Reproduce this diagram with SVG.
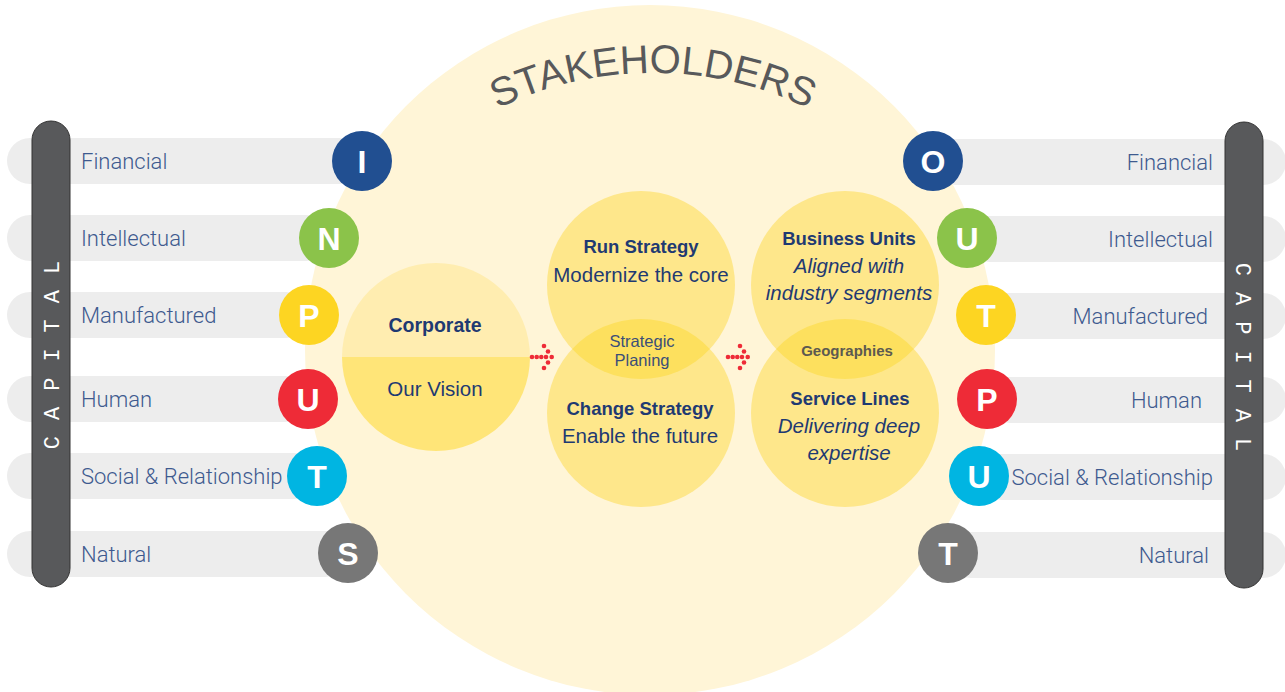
<svg xmlns="http://www.w3.org/2000/svg" width="1285" height="692" viewBox="0 0 1285 692">
<defs>
<style>
.row{fill:#EDEDED}
.lbl{font-family:"Roboto","Liberation Sans",sans-serif;font-weight:300;font-size:22px;fill:#3E5A8F}
.end{text-anchor:end}
.bar{fill:#58595B;stroke:#333333;stroke-width:1}
.cap{font-family:"Liberation Mono",monospace;font-size:22px;fill:#FFFFFF;letter-spacing:16px;text-anchor:middle}
.ltr{font-family:"Liberation Sans",sans-serif;font-weight:bold;font-size:32px;fill:#FFFFFF;text-anchor:middle}
.h{font-family:"Liberation Sans",sans-serif;font-weight:bold;font-size:18.5px;fill:#1F3A72;text-anchor:middle}
.t{font-family:"Liberation Sans",sans-serif;font-size:20.5px;fill:#1F3A72;text-anchor:middle}
.i{font-style:italic}
.sm{font-family:"Liberation Sans",sans-serif;font-size:16.5px;fill:#3B4E78;text-anchor:middle}
.geo{font-family:"Liberation Sans",sans-serif;font-weight:bold;font-size:15px;fill:#5C5A50;text-anchor:middle}
.sc{fill:#FEE78B}
.lens{fill:#FDE05E}
.dot{fill:#EE2B37}
.stk{font-family:"Liberation Sans",sans-serif;font-size:40px;fill:#58595B}
</style>
<g id="arr">
<circle class="dot" cx="0" cy="0" r="2.3"/>
<circle class="dot" cx="4.7" cy="0" r="2.3"/>
<circle class="dot" cx="9.3" cy="0" r="2.3"/>
<circle class="dot" cx="14" cy="0" r="2.3"/>
<circle class="dot" cx="12" cy="-11" r="2.3"/>
<circle class="dot" cx="16" cy="-5.5" r="2.3"/>
<circle class="dot" cx="19.7" cy="0" r="2.3"/>
<circle class="dot" cx="16" cy="5.5" r="2.3"/>
<circle class="dot" cx="12" cy="11" r="2.3"/>
</g>
<path id="arc" d="M 423.5 156.5 A 357 357 0 0 1 882.5 156.5" fill="none"/>
</defs>

<g id="rows-left">
<rect class="row" x="7" y="138" width="355" height="46" rx="23"/>
<rect class="row" x="7" y="215" width="322" height="46" rx="23"/>
<rect class="row" x="7" y="292" width="302" height="46" rx="23"/>
<rect class="row" x="7" y="376" width="301" height="46" rx="23"/>
<rect class="row" x="7" y="453" width="310" height="46" rx="23"/>
<rect class="row" x="7" y="531" width="341" height="46" rx="23"/>
</g>
<g id="rows-right">
<rect class="row" x="933" y="139" width="353" height="46" rx="23"/>
<rect class="row" x="967" y="216" width="319" height="46" rx="23"/>
<rect class="row" x="986" y="293" width="300" height="46" rx="23"/>
<rect class="row" x="987" y="377" width="299" height="46" rx="23"/>
<rect class="row" x="979" y="454" width="307" height="46" rx="23"/>
<rect class="row" x="948" y="532" width="338" height="46" rx="23"/>
</g>

<g id="stakeholders">
<circle cx="650" cy="350" r="345" fill="#FFF5D7"/>
<text class="stk"><textPath href="#arc" startOffset="50%" text-anchor="middle">STAKEHOLDERS</textPath></text>
</g>

<g id="capital-left">
<rect class="bar" x="32" y="121" width="38" height="466" rx="19"/>
<text class="cap" transform="translate(59,347) rotate(-90)">CAPITAL</text>
</g>
<g id="capital-right">
<rect class="bar" x="1225" y="122" width="38" height="466" rx="19"/>
<text class="cap" transform="translate(1236,365) rotate(90)">CAPITAL</text>
</g>

<g id="labels-left">
<text class="lbl" x="81" y="169">Financial</text>
<text class="lbl" x="81" y="246">Intellectual</text>
<text class="lbl" x="81" y="323">Manufactured</text>
<text class="lbl" x="81" y="407">Human</text>
<text class="lbl" x="81" y="484">Social &amp; Relationship</text>
<text class="lbl" x="81" y="562">Natural</text>
</g>
<g id="labels-right">
<text class="lbl end" x="1213" y="170">Financial</text>
<text class="lbl end" x="1213" y="247">Intellectual</text>
<text class="lbl end" x="1208" y="324">Manufactured</text>
<text class="lbl end" x="1202" y="408">Human</text>
<text class="lbl end" x="1213" y="485">Social &amp; Relationship</text>
<text class="lbl end" x="1209" y="563">Natural</text>
</g>

<g id="input-letters">
<g id="in-I"><circle cx="362" cy="161" r="30" fill="#214F91"/><text class="ltr" x="362" y="173">I</text></g>
<g id="in-N"><circle cx="329" cy="238" r="30" fill="#8BC34A"/><text class="ltr" x="329" y="250">N</text></g>
<g id="in-P"><circle cx="309" cy="315" r="30" fill="#FDD522"/><text class="ltr" x="309" y="327">P</text></g>
<g id="in-U"><circle cx="308" cy="399" r="30" fill="#EE2B37"/><text class="ltr" x="308" y="411">U</text></g>
<g id="in-T"><circle cx="317" cy="476" r="30" fill="#00B5E2"/><text class="ltr" x="317" y="488">T</text></g>
<g id="in-S"><circle cx="348" cy="553" r="30" fill="#777777"/><text class="ltr" x="348" y="565">S</text></g>
</g>
<g id="output-letters">
<g id="out-O"><circle cx="933" cy="161" r="30" fill="#214F91"/><text class="ltr" x="933" y="173">O</text></g>
<g id="out-U"><circle cx="967" cy="238" r="30" fill="#8BC34A"/><text class="ltr" x="967" y="250">U</text></g>
<g id="out-T"><circle cx="986" cy="315" r="30" fill="#FDD522"/><text class="ltr" x="986" y="327">T</text></g>
<g id="out-P"><circle cx="987" cy="399" r="30" fill="#EE2B37"/><text class="ltr" x="987" y="411">P</text></g>
<g id="out-U2"><circle cx="979" cy="476" r="30" fill="#00B5E2"/><text class="ltr" x="979" y="488">U</text></g>
<g id="out-T2"><circle cx="948" cy="553" r="30" fill="#777777"/><text class="ltr" x="948" y="565">T</text></g>
</g>

<g id="corporate">
<path d="M 342 357 A 94 94 0 0 1 530 357 Z" fill="#FFEDB0"/>
<path d="M 342 357 A 94 94 0 0 0 530 357 Z" fill="#FFE578"/>
<text class="h" x="435" y="332" style="font-size:19.5px">Corporate</text>
<text class="t" x="435" y="396">Our Vision</text>
</g>

<g id="strategy">
<circle class="sc" cx="641" cy="285" r="94"/>
<circle class="sc" cx="641" cy="413" r="94"/>
<path class="lens" d="M 572.2 349 A 94 94 0 0 1 709.8 349 A 94 94 0 0 1 572.2 349 Z"/>
<text class="h" x="641" y="253">Run Strategy</text>
<text class="t" x="641" y="282">Modernize the core</text>
<text class="sm" x="642" y="347">Strategic</text>
<text class="sm" x="642" y="366">Planing</text>
<text class="h" x="640" y="415">Change Strategy</text>
<text class="t" x="640" y="443">Enable the future</text>
</g>

<g id="units">
<circle class="sc" cx="845" cy="285" r="94"/>
<circle class="sc" cx="845" cy="413" r="94"/>
<path class="lens" d="M 776.2 349 A 94 94 0 0 1 913.8 349 A 94 94 0 0 1 776.2 349 Z"/>
<text class="h" x="849" y="245">Business Units</text>
<text class="t i" x="849" y="273">Aligned with</text>
<text class="t i" x="849" y="300">industry segments</text>
<text class="geo" x="847" y="356">Geographies</text>
<text class="h" x="850" y="405">Service Lines</text>
<text class="t i" x="849" y="433">Delivering deep</text>
<text class="t i" x="849" y="460">expertise</text>
</g>

<g id="connectors">
<use href="#arr" x="532" y="357"/>
<use href="#arr" x="728" y="357"/>
</g>
</svg>
